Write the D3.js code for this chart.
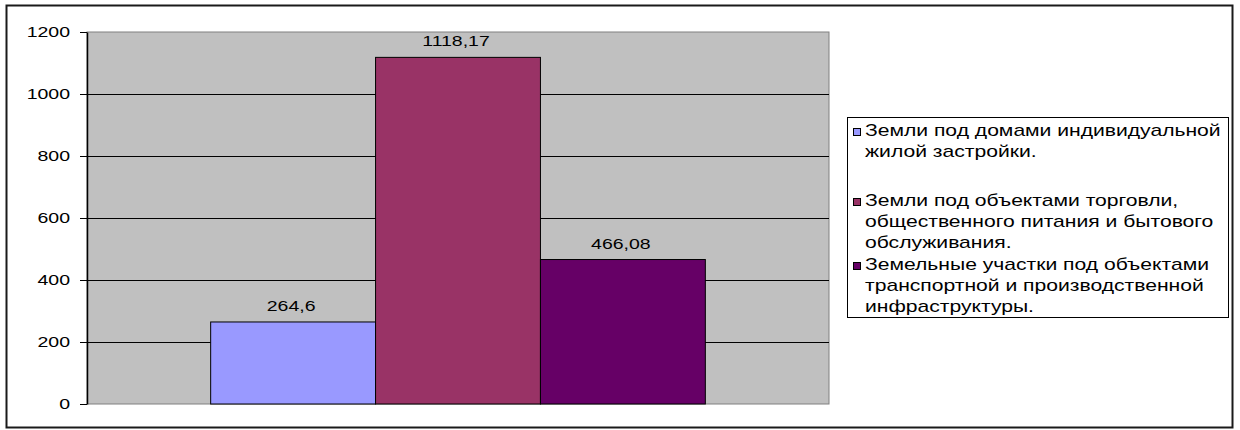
<!DOCTYPE html>
<html>
<head>
<meta charset="utf-8">
<script src="https://cdn.jsdelivr.net/npm/d3@7"></script>
<style>
  body { margin: 0; background: #fff; }
  text { font-family: "Liberation Sans", Arial, sans-serif; fill: #000; }
</style>
</head>
<body>
<div id="chart"></div>
<script>
// Series names (legend labels, split into lines as in the picture)
const seriesNames = [
    ["Земли под домами индивидуальной", "жилой застройки."],
    ["Земли под объектами торговли,", "общественного питания и бытового", "обслуживания."],
    ["Земельные участки под объектами", "транспортной и производственной", "инфраструктуры."]
];
// Values for the one category
const seriesValues = [264.6, 1118.17, 466.08];
const valueLabels = ["264,6", "1118,17", "466,08"];
const seriesColors = ["#9999FF", "#993366", "#660066"];
const yTicks = [0, 200, 400, 600, 800, 1000, 1200];

const width = 1240, height = 430;
const plot = { left: 87, right: 829, top: 32, bottom: 404 };
const stretch = 1.3; // the text in the picture is drawn wide

const svg = d3.select("#chart")
    .append("svg")
    .attr("width", width)
    .attr("height", height);

// outer frame
svg.append("rect")
    .attr("x", 6.5).attr("y", 5.5)
    .attr("width", 1226).attr("height", 422)
    .attr("fill", "#fff")
    .attr("stroke", "#1a1a1a")
    .attr("stroke-width", 2);

const yScale = d3.scaleLinear()
    .domain([0, 1200])
    .range([plot.bottom, plot.top]);

const x0 = d3.scaleBand()
    .domain(["cat"])
    .range([plot.left, plot.right])
    .padding(0.2);

const x1 = d3.scaleBand()
    .domain(d3.range(seriesValues.length))
    .range([x0("cat"), x0("cat") + x0.bandwidth()])
    .padding(0);

// plot area
svg.append("rect")
    .attr("x", plot.left).attr("y", plot.top)
    .attr("width", plot.right - plot.left)
    .attr("height", plot.bottom - plot.top)
    .attr("fill", "#C0C0C0")
    .attr("stroke", "#808080")
    .attr("stroke-width", 1);

// gridlines
svg.append("g")
    .selectAll("line")
    .data(yTicks.filter(d => d > 0 && d < 1200))
    .enter()
    .append("line")
    .attr("x1", plot.left).attr("x2", plot.right)
    .attr("y1", d => Math.round(yScale(d)) + 0.5)
    .attr("y2", d => Math.round(yScale(d)) + 0.5)
    .attr("stroke", "#000")
    .attr("stroke-width", 1);

// bars
svg.append("g")
    .selectAll("rect")
    .data(seriesValues)
    .enter()
    .append("rect")
    .attr("x", (d, i) => x1(i))
    .attr("y", d => yScale(d))
    .attr("width", x1.bandwidth())
    .attr("height", d => yScale(0) - yScale(d))
    .attr("fill", (d, i) => seriesColors[i])
    .attr("stroke", "#000")
    .attr("stroke-width", 1);

// value labels
svg.append("g")
    .selectAll("text")
    .data(seriesValues)
    .enter()
    .append("text")
    .attr("transform", (d, i) => `translate(${x1(i) + x1.bandwidth() / 2 - 2},${yScale(d) - 11}) scale(${stretch},1)`)
    .attr("text-anchor", "middle")
    .style("font-size", "15px")
    .text((d, i) => valueLabels[i]);

// y axis (line + ticks), labels drawn separately to stretch them
const yAxis = svg.append("g")
    .attr("transform", `translate(${plot.left},0)`)
    .call(d3.axisLeft(yScale).tickValues(yTicks).tickSize(7).tickSizeOuter(0).tickFormat(""));
yAxis.select(".domain").attr("stroke", "#000").attr("stroke-width", 1.5);
yAxis.selectAll(".tick line").attr("stroke", "#000");

svg.append("g")
    .selectAll("text")
    .data(yTicks)
    .enter()
    .append("text")
    .attr("transform", d => `translate(70,${yScale(d) + 5}) scale(${stretch},1)`)
    .attr("text-anchor", "end")
    .style("font-size", "15px")
    .text(d => d);

// legend
const legend = svg.append("g");
legend.append("rect")
    .attr("x", 847.5).attr("y", 117.5)
    .attr("width", 381).attr("height", 200)
    .attr("fill", "#fff")
    .attr("stroke", "#000");

const itemTop = [136, 206, 270];
const lineH = 21;
seriesNames.forEach((lines, i) => {
    legend.append("rect")
        .attr("x", 853.5).attr("y", itemTop[i] - 7.5)
        .attr("width", 7).attr("height", 7)
        .attr("fill", seriesColors[i])
        .attr("stroke", "#000");
    lines.forEach((line, j) => {
        legend.append("text")
            .attr("transform", `translate(865,${itemTop[i] + j * lineH}) scale(1.32,1)`)
            .style("font-size", "16px")
            .text(line);
    });
});
</script>
</body>
</html>
